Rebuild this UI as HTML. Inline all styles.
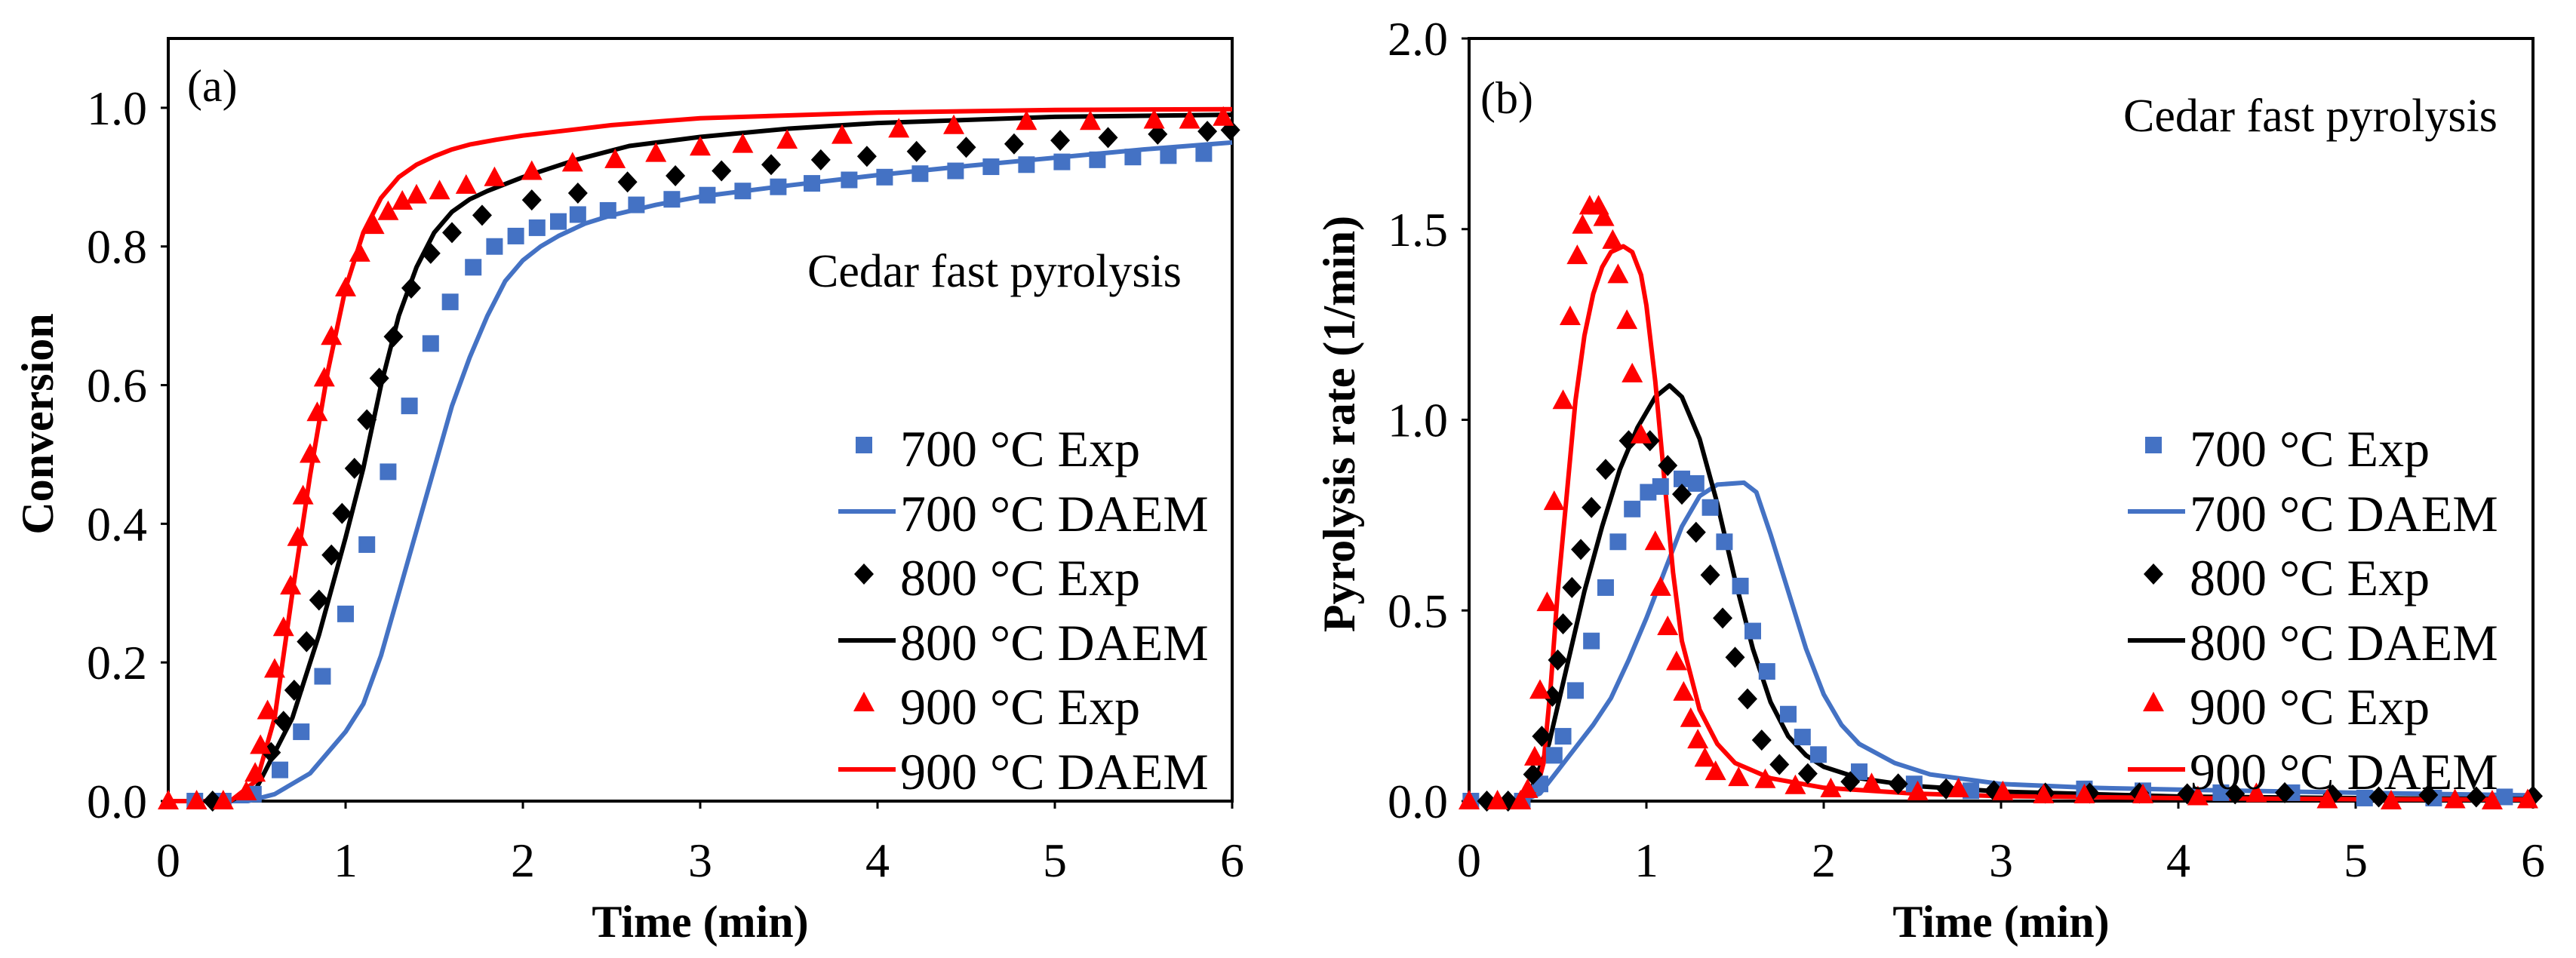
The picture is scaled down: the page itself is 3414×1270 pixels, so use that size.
<!DOCTYPE html>
<html><head><meta charset="utf-8">
<style>
html,body{margin:0;padding:0;background:#fff;}
svg{display:block;}
text{font-family:"Liberation Serif",serif;fill:#000;}
</style></head>
<body>
<svg id="fig" width="3414" height="1270" viewBox="0 0 3414 1270" xmlns="http://www.w3.org/2000/svg"></svg>
<script>
// ---------- Panel (a) data: conversion ----------
const aExp700T=[0.15,0.31,0.48,0.63,0.75,0.87,1.0,1.12,1.24,1.36,1.48,1.59,1.72,1.84,1.96,2.08,2.2,2.31,2.48,2.64,2.84,3.04,3.24,3.44,3.63,3.84,4.04,4.24,4.44,4.64,4.84,5.04,5.24,5.44,5.64,5.84];
const aExp700V=[0,0,0.01,0.045,0.10,0.18,0.27,0.37,0.475,0.57,0.66,0.72,0.77,0.80,0.815,0.827,0.836,0.846,0.852,0.86,0.868,0.874,0.88,0.886,0.891,0.896,0.90,0.905,0.909,0.915,0.918,0.922,0.925,0.929,0.931,0.934];
const aExp800T=[0.25,0.58,0.65,0.71,0.78,0.85,0.92,0.98,1.05,1.12,1.19,1.27,1.37,1.48,1.6,1.77,2.05,2.31,2.59,2.86,3.12,3.4,3.68,3.94,4.22,4.5,4.77,5.03,5.3,5.58,5.86,5.99];
const aExp800V=[0,0.07,0.115,0.16,0.23,0.29,0.355,0.415,0.48,0.55,0.61,0.67,0.74,0.79,0.82,0.845,0.867,0.877,0.893,0.902,0.909,0.918,0.925,0.93,0.937,0.943,0.948,0.953,0.957,0.962,0.966,0.968];
const aExp900T=[0,0.16,0.31,0.44,0.49,0.52,0.56,0.6,0.65,0.69,0.73,0.76,0.8,0.84,0.88,0.92,1.0,1.08,1.16,1.24,1.32,1.4,1.53,1.68,1.84,2.05,2.28,2.52,2.75,3.0,3.24,3.49,3.8,4.12,4.43,4.84,5.2,5.56,5.76,5.95];
const aExp900V=[0,0,0,0.013,0.04,0.08,0.13,0.19,0.25,0.31,0.38,0.44,0.5,0.56,0.61,0.67,0.74,0.79,0.83,0.85,0.865,0.874,0.88,0.888,0.899,0.908,0.92,0.925,0.934,0.943,0.947,0.953,0.96,0.969,0.974,0.98,0.98,0.982,0.982,0.986];
const aDaem700T=[0,0.45,0.6,0.8,1.0,1.1,1.2,1.3,1.4,1.5,1.6,1.7,1.8,1.9,2.0,2.1,2.2,2.35,2.5,2.75,3,3.5,4,4.5,5,5.5,6];
const aDaem700V=[0,0,0.01,0.04,0.1,0.14,0.21,0.3,0.39,0.48,0.57,0.64,0.7,0.75,0.78,0.8,0.815,0.833,0.845,0.86,0.872,0.888,0.903,0.916,0.928,0.94,0.95];
const aDaem800T=[0,0.35,0.5,0.7,0.85,1.0,1.1,1.2,1.3,1.4,1.5,1.6,1.7,1.8,2.0,2.3,2.6,3,3.5,4,5,6];
const aDaem800V=[0,0,0.02,0.12,0.24,0.38,0.48,0.6,0.7,0.77,0.82,0.85,0.868,0.88,0.9,0.925,0.945,0.958,0.97,0.978,0.987,0.99];
const aDaem900T=[0,0.35,0.5,0.6,0.7,0.8,0.9,1.0,1.1,1.2,1.3,1.4,1.5,1.6,1.7,1.85,2,2.5,3,4,5,6];
const aDaem900V=[0,0,0.03,0.12,0.3,0.47,0.62,0.74,0.82,0.87,0.9,0.918,0.93,0.94,0.947,0.954,0.96,0.975,0.985,0.993,0.997,0.998];
const aYTicks=["0.0","0.2","0.4","0.6","0.8","1.0"];
const xTicks=["0","1","2","3","4","5","6"];

// ---------- Panel (b) data: pyrolysis rate ----------
const bExp700T=[0.01,0.3,0.4,0.48,0.53,0.6,0.69,0.77,0.84,0.92,1.01,1.08,1.2,1.28,1.36,1.44,1.53,1.6,1.68,1.8,1.88,1.97,2.2,2.51,2.83,3.47,3.8,4.24,4.64,5.05,5.44,5.84];
const bExp700V=[0,0,0.045,0.12,0.17,0.29,0.42,0.56,0.68,0.766,0.81,0.825,0.845,0.833,0.77,0.68,0.564,0.446,0.34,0.228,0.168,0.122,0.077,0.045,0.027,0.032,0.027,0.022,0.022,0.008,0.008,0.011];
const bExp800T=[0.1,0.22,0.36,0.41,0.47,0.5,0.53,0.58,0.63,0.69,0.77,0.9,1.02,1.12,1.2,1.28,1.36,1.43,1.5,1.57,1.65,1.75,1.91,2.15,2.42,2.69,2.96,3.25,3.5,3.78,4.05,4.32,4.6,4.87,5.13,5.41,5.68,6.0];
const bExp800V=[0,0,0.07,0.17,0.275,0.37,0.465,0.56,0.66,0.77,0.87,0.945,0.945,0.88,0.805,0.705,0.593,0.48,0.377,0.268,0.16,0.096,0.072,0.051,0.045,0.032,0.027,0.021,0.021,0.021,0.019,0.019,0.022,0.016,0.011,0.016,0.011,0.013];
const bExp900T=[0,0.16,0.29,0.33,0.37,0.4,0.44,0.48,0.53,0.57,0.61,0.64,0.68,0.73,0.76,0.81,0.84,0.89,0.92,0.97,1.05,1.08,1.12,1.17,1.21,1.25,1.29,1.33,1.39,1.52,1.67,1.84,2.04,2.27,2.53,2.76,3.01,3.24,3.47,3.8,4.11,4.44,4.84,5.2,5.56,5.77,5.97];
const bExp900V=[0,0,0,0.03,0.115,0.29,0.52,0.785,1.05,1.27,1.43,1.51,1.56,1.56,1.53,1.47,1.38,1.26,1.12,0.96,0.68,0.56,0.457,0.365,0.285,0.216,0.16,0.112,0.077,0.061,0.056,0.04,0.032,0.045,0.024,0.032,0.024,0.016,0.016,0.016,0.011,0.019,0.003,0,0.003,0,0.003];
const bDaem700T=[0,0.3,0.4,0.5,0.6,0.7,0.8,0.9,1.0,1.1,1.2,1.3,1.4,1.55,1.62,1.7,1.8,1.9,2.0,2.1,2.2,2.4,2.6,3,3.5,4,5,6];
const bDaem700V=[0,0,0.02,0.08,0.14,0.2,0.27,0.37,0.48,0.6,0.72,0.8,0.83,0.835,0.81,0.7,0.55,0.4,0.28,0.2,0.15,0.1,0.07,0.045,0.035,0.03,0.022,0.015];
const bDaem800T=[0,0.25,0.35,0.45,0.55,0.65,0.75,0.85,0.95,1.05,1.13,1.2,1.3,1.4,1.5,1.6,1.7,1.8,1.9,2.0,2.2,2.5,3,4,5,6];
const bDaem800V=[0,0,0.03,0.15,0.35,0.55,0.72,0.87,0.98,1.06,1.09,1.06,0.95,0.78,0.58,0.4,0.26,0.17,0.12,0.09,0.06,0.04,0.025,0.012,0.008,0.005];
const bDaem900T=[0,0.3,0.38,0.42,0.46,0.5,0.55,0.6,0.65,0.7,0.75,0.8,0.87,0.92,0.97,1.0,1.05,1.1,1.15,1.2,1.3,1.4,1.5,1.7,2,2.5,3,4,5,6];
const bDaem900V=[0,0,0.03,0.1,0.3,0.55,0.8,1.05,1.22,1.33,1.4,1.44,1.455,1.44,1.38,1.3,1.1,0.85,0.6,0.42,0.24,0.15,0.1,0.06,0.035,0.02,0.013,0.008,0.005,0.004];
const bYTicks=["0.0","0.5","1.0","1.5","2.0"];

const NS="http://www.w3.org/2000/svg";
const svg=document.getElementById('fig');
const BLUE="#4472C4",RED="#FF0000",BLACK="#000";
function mk(tag,attrs,parent){const e=document.createElementNS(NS,tag);for(const k in attrs)e.setAttribute(k,attrs[k]);(parent||svg).appendChild(e);return e;}

function panel(cfg){
  const g=mk('g',{});
  
  
  const L=cfg.x0,R=cfg.x1,B=1062,T=51;
  const sx=v=>L+(R-L)*v/6;
  const sy=v=>B-(B-T)*v/cfg.ymax;
  const fr=mk('rect',{x:L,y:T,width:R-L,height:B-T,fill:'none',stroke:'#000','stroke-width':4},g);
  
  
  xTicks.forEach(t=>{const v=parseFloat(t);const x=sx(v);
    const tk=mk('line',{x1:x,x2:x,y1:B,y2:B+10,stroke:'#000','stroke-width':3},g);
    
    
    const tx=mk('text',{x:x,y:B+100,'font-size':64,'text-anchor':'middle'},g);tx.textContent=t;
    
    
  });
  cfg.yTicks.forEach(t=>{const v=parseFloat(t);const y=sy(v);
    const tk=mk('line',{x1:L-10,x2:L,y1:y,y2:y,stroke:'#000','stroke-width':3},g);
    
    
    const tx=mk('text',{x:L-28,y:y+22,'font-size':64,'text-anchor':'end'},g);tx.textContent=t;
    
    
  });
  const xt=mk('text',{x:(L+R)/2,y:1242,'font-size':60,'font-weight':'bold','text-anchor':'middle'},g);xt.textContent='Time (min)';
  
  
  const yt=mk('text',{x:0,y:0,'font-size':60,'font-weight':'bold','text-anchor':'middle',transform:`translate(${cfg.ytx},562) rotate(-90)`},g);yt.textContent=cfg.ytitle;
  
  
  const lb=mk('text',{x:cfg.labX,y:cfg.labY,'font-size':60},g);lb.textContent=cfg.label;
  
  
  const ct=mk('text',{x:cfg.capX,y:cfg.capY,'font-size':62},g);ct.textContent='Cedar fast pyrolysis';
  
  

  cfg.lines.forEach(ln=>{
    const d=ln.t.map((t,i)=>(i?'L':'M')+sx(t).toFixed(1)+','+sy(ln.v[i]).toFixed(1)).join(' ');
    const p=mk('path',{d:d,fill:'none',stroke:ln.c,'stroke-width':6,'stroke-linejoin':'round'},g);
    
    
  });
  cfg.pts.forEach(ps=>{
    ps.t.forEach((t,i)=>{
      const m=marker(ps.shape,sx(t),sy(ps.v[i]),ps.c,g);
      
      
    });
  });
  const lx=cfg.legX, rows=[594,680,765,851,936,1022];
  const ents=[['sq',BLUE,'700 °C Exp'],['ln',BLUE,'700 °C DAEM'],['di',BLACK,'800 °C Exp'],['ln',BLACK,'800 °C DAEM'],['tr',RED,'900 °C Exp'],['ln',RED,'900 °C DAEM']];
  ents.forEach((e,i)=>{
    const y=rows[i];
    const eg=mk('g',{},g);
    
    
    if(e[0]==='ln') mk('line',{x1:lx-82,x2:lx-6,y1:y-2,y2:y-2,stroke:e[1],'stroke-width':6},eg);
    else marker(e[0],lx-48,y-4,e[1],eg);
    const tx=mk('text',{x:lx,y:y+24,'font-size':68},eg);tx.textContent=e[2];
  });
}
function marker(s,x,y,c,g){
  if(s==='sq') return mk('rect',{x:x-11,y:y-11,width:22,height:22,fill:c},g);
  if(s==='di') return mk('path',{d:`M${x},${y-14}L${x+13},${y}L${x},${y+14}L${x-13},${y}Z`,fill:c},g);
  return mk('path',{d:`M${x},${y-15}L${x+14},${y+11}L${x-14},${y+11}Z`,fill:c},g);
}

panel({name:'conversion-chart',x0:223,x1:1633,ymax:1.1,yTicks:aYTicks,ytitle:'Conversion',ytx:70,label:'(a)',labX:248,labY:134,capX:1070,capY:380,legX:1193,
  lines:[{t:aDaem700T,v:aDaem700V,c:BLUE,name:'line-700-daem'},{t:aDaem800T,v:aDaem800V,c:BLACK,name:'line-800-daem'},{t:aDaem900T,v:aDaem900V,c:RED,name:'line-900-daem'}],
  pts:[{t:aExp700T,v:aExp700V,c:BLUE,shape:'sq',name:'point-700-exp'},{t:aExp800T,v:aExp800V,c:BLACK,shape:'di',name:'point-800-exp'},{t:aExp900T,v:aExp900V,c:RED,shape:'tr',name:'point-900-exp'}]});
panel({name:'pyrolysis-rate-chart',x0:1947,x1:3357,ymax:2.0,yTicks:bYTicks,ytitle:'Pyrolysis rate (1/min)',ytx:1795,label:'(b)',labX:1962,labY:150,capX:2814,capY:174,legX:2902,
  lines:[{t:bDaem700T,v:bDaem700V,c:BLUE,name:'line-700-daem'},{t:bDaem800T,v:bDaem800V,c:BLACK,name:'line-800-daem'},{t:bDaem900T,v:bDaem900V,c:RED,name:'line-900-daem'}],
  pts:[{t:bExp700T,v:bExp700V,c:BLUE,shape:'sq',name:'point-700-exp'},{t:bExp800T,v:bExp800V,c:BLACK,shape:'di',name:'point-800-exp'},{t:bExp900T,v:bExp900V,c:RED,shape:'tr',name:'point-900-exp'}]});
</script>
</body></html>
